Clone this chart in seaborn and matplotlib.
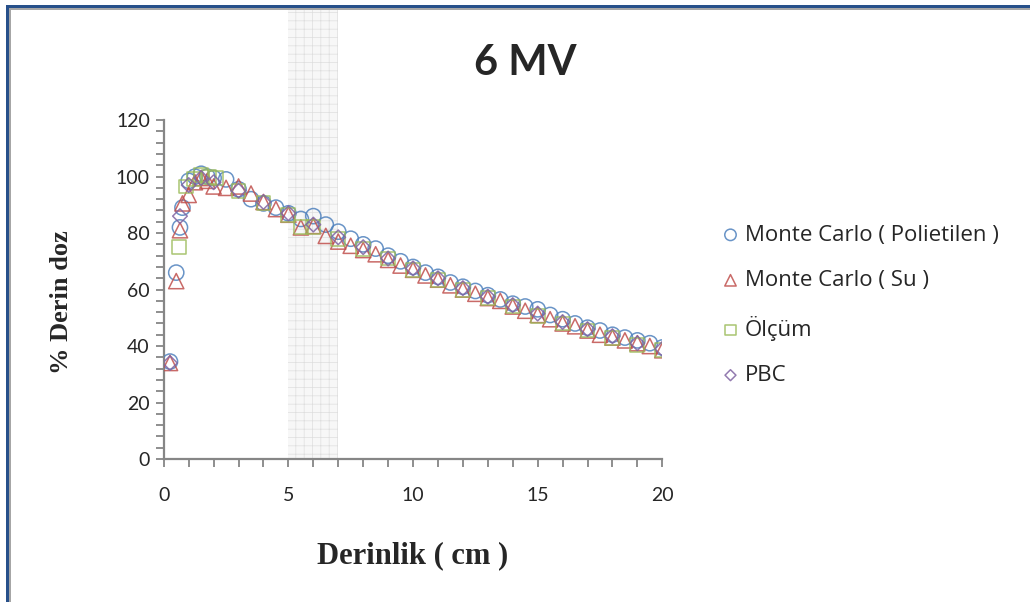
import seaborn as sns
import matplotlib.pyplot as plt
from matplotlib.patches import Rectangle
from matplotlib.ticker import MultipleLocator

# depth (cm) and percent depth dose for each series
mc_poly_x = [0.25, 0.5, 0.65, 0.75, 1.0, 1.25, 1.5, 1.75, 2.0, 2.5, 3.0, 3.5, 4.0,
             4.5, 5.0, 5.5, 6.0, 6.5, 7.0, 7.5, 8.0, 8.5, 9.0, 9.5, 10.0, 10.5,
             11.0, 11.5, 12.0, 12.5, 13.0, 13.5, 14.0, 14.5, 15.0, 15.5, 16.0,
             16.5, 17.0, 17.5, 18.0, 18.5, 19.0, 19.5, 20.0]
mc_poly_y = [34.5, 66, 82, 89, 98.5, 100, 101, 100, 99.5, 99, 95.5, 92, 90.5,
             89, 87, 85, 86, 83, 80.5, 78, 76, 74.5, 72, 70, 68, 66,
             64.5, 62.5, 61, 59.5, 58, 56.5, 55, 54, 53, 51, 49.5,
             48, 46.5, 45.5, 44, 43, 42, 41, 39.5]

mc_su_x = mc_poly_x
mc_su_y = [34, 63, 81, 90.5, 93.5, 98, 99.5, 98.5, 96.5, 96, 96.5, 94, 91,
           88.5, 86.5, 82, 82.5, 79, 77, 75.5, 74, 72.5, 70.5, 68.5, 67, 65,
           63.5, 61.5, 60, 58.5, 57, 56, 54, 52.5, 51, 49.5, 48,
           47, 45.5, 44, 43, 42, 41, 40, 38.5]

olcum_x = [0.6, 0.9, 1.2, 1.5, 1.8, 2.1, 3.0, 4.0, 5.0, 5.5, 6.0, 7.0, 8.0,
           9.0, 10.0, 11.0, 12.0, 13.0, 14.0, 15.0, 16.0, 17.0, 18.0, 19.0, 20.0]
olcum_y = [75, 96.5, 99, 100.5, 100, 99.5, 95, 90.5, 86.5, 82, 82, 78, 74.5,
           71, 67, 63.5, 60, 57, 54, 50.5, 48, 45.5, 43, 40.5, 38.5]

pbc_x = [0.25, 0.65, 1.0, 1.5, 2.0, 3.0, 4.0, 5.0, 6.0, 7.0, 8.0, 9.0, 10.0,
         11.0, 12.0, 13.0, 14.0, 15.0, 16.0, 17.0, 18.0, 19.0, 20.0]
pbc_y = [34, 86, 97, 99.5, 98, 95, 91, 87, 83, 78.5, 75, 71, 67.5,
         64, 60.5, 57.5, 54.5, 51.5, 48.5, 46, 43.5, 41, 39]

series = [
    ("Monte Carlo ( Polietilen )", mc_poly_x, mc_poly_y, "o", "#4f81bd", 120),
    ("Monte Carlo ( Su )", mc_su_x, mc_su_y, "^", "#c0504d", 120),
    ("Ölçüm", olcum_x, olcum_y, "s", "#9bbb59", 100),
    ("PBC", pbc_x, pbc_y, "D", "#8064a2", 55),
]

sns.set_style("white")
plt.rcParams['hatch.linewidth'] = 0.5

fig = plt.figure(figsize=(10.3, 6.02), dpi=100)
ax = fig.add_axes([0.159, 0.2375, 0.484, 0.563])

# shaded band between 5 and 7 cm, running up to the top of the frame
ax.axvspan(5, 7, ymin=0, ymax=1.33, clip_on=False, facecolor="#f7f7f7",
           edgecolor="#dedede", hatch="++", linewidth=0, zorder=0)

for name, xs, ys, mk, col, sz in series:
    sns.scatterplot(x=xs, y=ys, ax=ax, marker=mk, s=sz, color=col,
                    facecolors="none", edgecolor=col, linewidth=1.1,
                    alpha=0.85, label=name, zorder=3)

ax.set_xlim(0, 20)
ax.set_ylim(0, 120)
ax.xaxis.set_major_locator(MultipleLocator(5))
ax.xaxis.set_minor_locator(MultipleLocator(1))
ax.yaxis.set_major_locator(MultipleLocator(20))
ax.yaxis.set_minor_locator(MultipleLocator(4))
ax.tick_params(which="both", direction="out", length=6, width=1.3,
               color="#868686", labelsize=14)
ax.tick_params(axis="x", which="both", bottom=True, pad=14)
ax.tick_params(axis="y", which="both", left=True, pad=4)
for lab in ax.get_xticklabels() + ax.get_yticklabels():
    lab.set_fontfamily("Lato")
for side in ["top", "right"]:
    ax.spines[side].set_visible(False)
for side in ["left", "bottom"]:
    ax.spines[side].set_color("#868686")
    ax.spines[side].set_linewidth(1.6)
ax.set_facecolor("none")

ax.set_xlabel("Derinlik ( cm )", fontsize=22, fontweight="bold",
              family="Liberation Serif")
ax.set_ylabel("% Derin doz", fontsize=19, fontweight="bold",
              family="Liberation Serif")
ax.xaxis.set_label_coords(0.5, -0.286)
ax.yaxis.set_label_coords(-0.205, 0.463)
ax.xaxis.label.set_va("center")
ax.yaxis.label.set_va("center")

fig.text(0.51, 0.895, "6 MV", ha="center", va="center", fontsize=30,
         fontweight="bold", family="Lato")

ax.legend(loc="upper left", bbox_to_anchor=(0.679, 0.66),
          bbox_transform=fig.transFigure, frameon=False, markerscale=0.75,
          handletextpad=0.15, labelspacing=1.1, handlelength=1.0,
          prop={"family": "Open Sans", "size": 16})

# window frame on the top and left edges
W, H = 1030, 602
fig.add_artist(Rectangle((6 / W, 0), 3 / W, 1 - 5 / H, transform=fig.transFigure,
                         color="#27508a", lw=0))
fig.add_artist(Rectangle((6 / W, 1 - 8 / H), 1 - 6 / W, 3 / H, transform=fig.transFigure,
                         color="#27508a", lw=0))
fig.add_artist(Rectangle((9 / W, 0), 2 / W, 1 - 8 / H, transform=fig.transFigure,
                         color="#a6a6a6", lw=0))
fig.add_artist(Rectangle((9 / W, 1 - 10 / H), 1 - 9 / W, 2 / H, transform=fig.transFigure,
                         color="#a6a6a6", lw=0))

plt.savefig("out.png", dpi=100)
plt.close()
